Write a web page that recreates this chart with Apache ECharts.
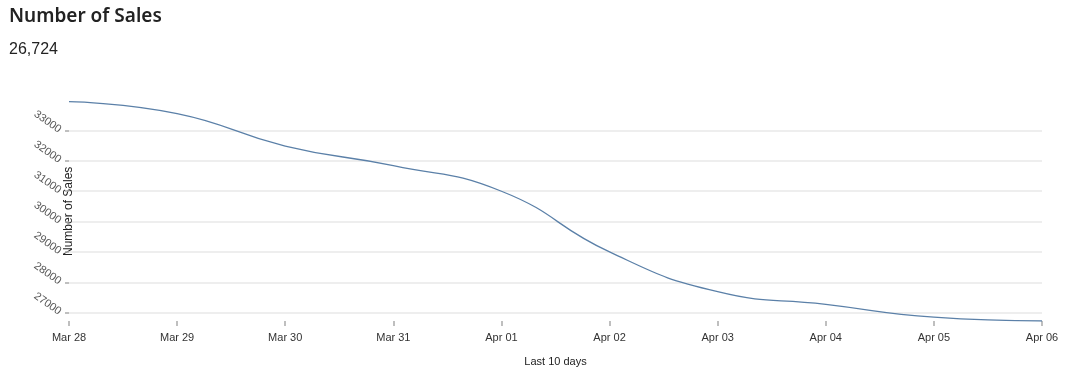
<!DOCTYPE html>
<html>
<head>
<meta charset="utf-8">
<script src="https://cdn.jsdelivr.net/npm/echarts@6/dist/echarts.min.js"></script>
<style>
html,body{margin:0;padding:0;background:#fff;}
#chart{width:1069px;height:368px;}
</style>
</head>
<body>
<div id="chart"></div>
<script>
const titleText = 'Number of Sales';
const latestText = '26,724';
const categories = ['Mar 28','Mar 29','Mar 30','Mar 31','Apr 01','Apr 02','Apr 03','Apr 04','Apr 05','Apr 06'];
const sales = [33950, 33560, 32490, 31840, 31000, 29000, 27690, 27270, 26850, 26724];
const yTicks = [27000, 28000, 29000, 30000, 31000, 32000, 33000];
const yAxisName = 'Number of Sales';
const xAxisName = 'Last 10 days';

const chart = echarts.init(document.getElementById('chart'), null, {renderer: 'canvas'});
chart.setOption({
  animation: false,
  backgroundColor: '#fff',
  title: [
    {text: titleText, left: 4, top: 2, textStyle: {fontFamily: 'Noto Sans', fontSize: 19, fontWeight: 600, color: '#222'}},
    {text: latestText, left: 4, top: 37, textStyle: {fontFamily: 'Liberation Sans', fontSize: 16, fontWeight: 'normal', color: '#222'}}
  ],
  grid: {left: 69, right: 27, top: 101.7, bottom: 47, containLabel: false, outerBoundsMode: 'none'},
  xAxis: {
    type: 'category',
    data: categories,
    boundaryGap: false,
    name: xAxisName,
    nameLocation: 'middle',
    nameGap: 35,
    nameMoveOverlap: false,
    nameTextStyle: {fontFamily: 'Liberation Sans', fontSize: 11, color: '#222'},
    axisLine: {show: false},
    axisTick: {show: true, length: 5, lineStyle: {color: '#aaa', width: 1.5}},
    axisLabel: {margin: 11, fontFamily: 'Liberation Sans', fontSize: 11, color: '#333'},
    splitLine: {show: false}
  },
  yAxis: {
    type: 'value',
    min: 'dataMin',
    max: 'dataMax',
    name: yAxisName,
    nameLocation: 'middle',
    nameGap: -6,
    nameMoveOverlap: false,
    nameTextStyle: {fontFamily: 'Liberation Sans', fontSize: 12, color: '#222'},
    axisLine: {show: false},
    axisTick: {show: true, length: 4, customValues: yTicks, lineStyle: {color: '#aaa', width: 1.5}},
    axisLabel: {customValues: yTicks, formatter: v => String(v), rotate: -35, margin: 9, fontFamily: 'Liberation Sans', fontSize: 11, color: '#555'},
    splitLine: {show: true, lineStyle: {color: '#e8e8e8', width: 1.5}}
  },
  series: [{
    type: 'line',
    data: sales,
    smooth: 0.5,
    showSymbol: false,
    lineStyle: {color: '#5b80a8', width: 1.3}
  }]
});
</script>
</body>
</html>
